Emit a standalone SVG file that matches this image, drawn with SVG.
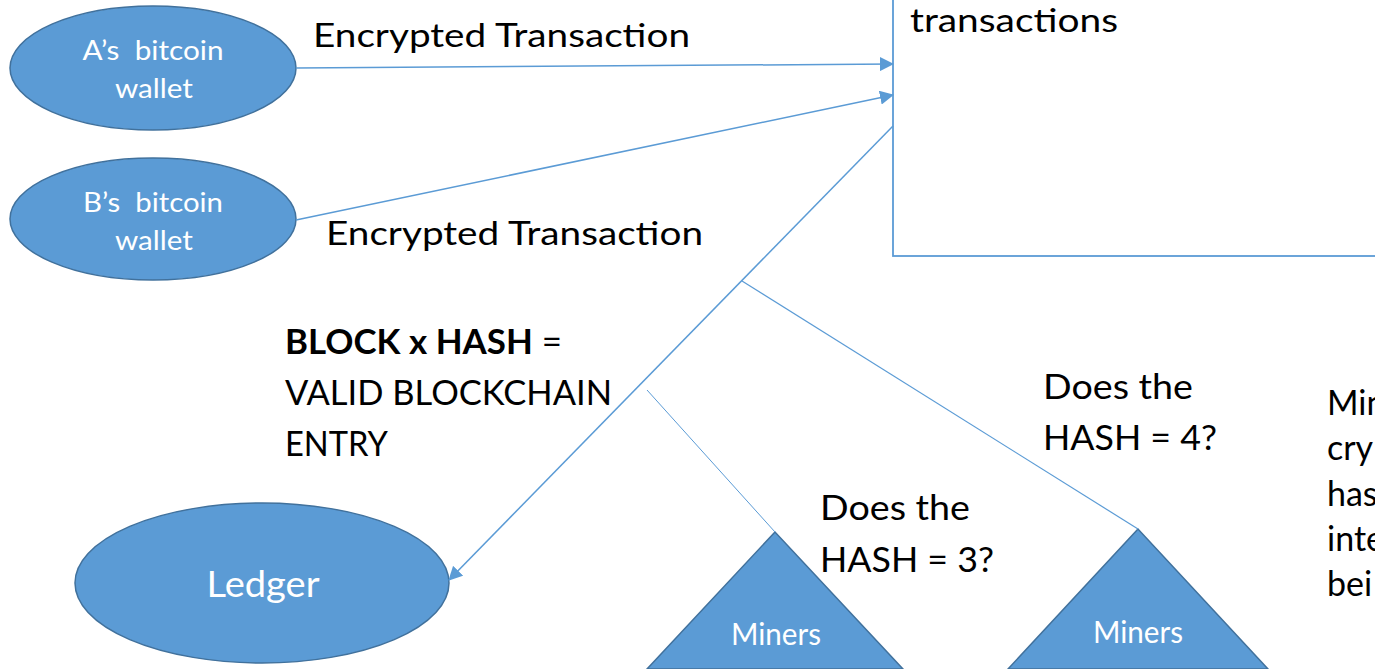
<svg xmlns="http://www.w3.org/2000/svg" width="1375" height="669" viewBox="0 0 1375 669">
<style>
.shape{fill:#5b9bd5;stroke:#41719c;stroke-width:1.5}
.wt{fill:#ffffff;font-family:Lato,"Liberation Sans",sans-serif;text-anchor:middle}
.bt{fill:#000000;font-family:Lato,"Liberation Sans",sans-serif}
.conn{stroke:#5b9bd5;fill:none}
</style>
<defs>
<marker id="arr" markerUnits="userSpaceOnUse" markerWidth="14" markerHeight="14" viewBox="0 0 14 14" refX="13" refY="7" orient="auto">
<path d="M0,0 L14,7 L0,14 Z" fill="#5b9bd5"/>
</marker>
</defs>
<rect width="1375" height="669" fill="#ffffff"/>

<g id="pool">
<rect x="893" y="-10" width="500" height="266" fill="none" stroke="#5b9bd5" stroke-width="1.8"/>
<text class="bt" x="910" y="32" font-size="33" textLength="208" lengthAdjust="spacingAndGlyphs">transactions</text>
</g>

<g id="walletA">
<ellipse class="shape" cx="153" cy="68" rx="143" ry="62"/>
<text class="wt" x="153" y="60" font-size="27" textLength="141" lengthAdjust="spacingAndGlyphs" xml:space="preserve">A’s  bitcoin</text>
<text class="wt" x="154" y="98" font-size="27" textLength="78" lengthAdjust="spacingAndGlyphs">wallet</text>
</g>

<g id="walletB">
<ellipse class="shape" cx="153" cy="219" rx="143" ry="61"/>
<text class="wt" x="153" y="212" font-size="27" textLength="140" lengthAdjust="spacingAndGlyphs" xml:space="preserve">B’s  bitcoin</text>
<text class="wt" x="154" y="250" font-size="27" textLength="78" lengthAdjust="spacingAndGlyphs">wallet</text>
</g>

<g id="ledger">
<ellipse class="shape" cx="262" cy="583" rx="187" ry="80"/>
<text class="wt" x="263" y="597" font-size="37" textLength="113" lengthAdjust="spacingAndGlyphs">Ledger</text>
</g>

<g id="miners1">
<polygon class="shape" points="775,532 647,669 903,669"/>
<text class="wt" x="776" y="645" font-size="30" textLength="90" lengthAdjust="spacingAndGlyphs">Miners</text>
</g>

<g id="miners2">
<polygon class="shape" points="1138,529 1008,669 1268,669"/>
<text class="wt" x="1138" y="643" font-size="30" textLength="90" lengthAdjust="spacingAndGlyphs">Miners</text>
</g>

<g id="connectors">
<line class="conn" x1="296" y1="68" x2="893" y2="64" stroke-width="1.5" marker-end="url(#arr)"/>
<line class="conn" x1="296" y1="220" x2="893" y2="95" stroke-width="1.5" marker-end="url(#arr)"/>
<line class="conn" x1="893" y1="126" x2="449" y2="580" stroke-width="1.5" marker-end="url(#arr)"/>
<line class="conn" x1="742" y1="281" x2="1138" y2="529" stroke-width="1.2"/>
<line class="conn" x1="647" y1="390" x2="775" y2="532" stroke-width="1"/>
</g>

<g id="labels">
<text class="bt" x="313" y="47" font-size="33" textLength="377" lengthAdjust="spacingAndGlyphs">Encrypted Transaction</text>
<text class="bt" x="326" y="245" font-size="33" textLength="377" lengthAdjust="spacingAndGlyphs">Encrypted Transaction</text>
<text class="bt" x="285" y="354" font-size="34" textLength="277" lengthAdjust="spacingAndGlyphs"><tspan font-weight="bold">BLOCK x HASH</tspan> =</text>
<text class="bt" x="285" y="405" font-size="34" textLength="327" lengthAdjust="spacingAndGlyphs">VALID BLOCKCHAIN</text>
<text class="bt" x="285" y="456" font-size="34" textLength="103" lengthAdjust="spacingAndGlyphs">ENTRY</text>
<text class="bt" x="820" y="520" font-size="34" textLength="150" lengthAdjust="spacingAndGlyphs">Does the</text>
<text class="bt" x="820" y="572" font-size="34" textLength="174" lengthAdjust="spacingAndGlyphs">HASH = 3?</text>
<text class="bt" x="1043" y="399" font-size="34" textLength="150" lengthAdjust="spacingAndGlyphs">Does the</text>
<text class="bt" x="1043" y="450" font-size="34" textLength="174" lengthAdjust="spacingAndGlyphs">HASH = 4?</text>
<text class="bt" x="1327" y="415" font-size="34">Min</text>
<text class="bt" x="1327" y="460" font-size="34">cry</text>
<text class="bt" x="1327" y="506" font-size="34">has</text>
<text class="bt" x="1327" y="551" font-size="34">inte</text>
<text class="bt" x="1327" y="596" font-size="34">bei</text>
</g>
</svg>
